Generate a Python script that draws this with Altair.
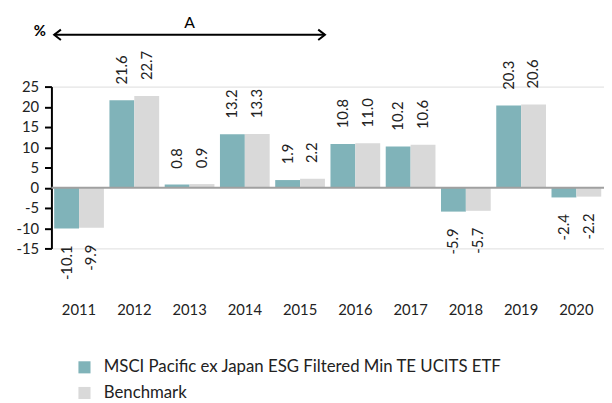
import altair as alt
import pandas as pd

years = ["2011", "2012", "2013", "2014", "2015", "2016", "2017", "2018", "2019", "2020"]
fund = [-10.1, 21.6, 0.8, 13.2, 1.9, 10.8, 10.2, -5.9, 20.3, -2.4]
bench = [-9.9, 22.7, 0.9, 13.3, 2.2, 11.0, 10.6, -5.7, 20.6, -2.2]
series_names = ["MSCI Pacific ex Japan ESG Filtered Min TE UCITS ETF", "Benchmark"]
colors = ["#80b3b9", "#d9d9d9"]
y_ticks = [-15, -10, -5, 0, 5, 10, 15, 20, 25]

rows = []
for i, y in enumerate(years):
    rows.append({"year": y, "series": series_names[0], "value": fund[i]})
    rows.append({"year": y, "series": series_names[1], "value": bench[i]})
df = pd.DataFrame(rows)

arrow_df = pd.DataFrame([{"start": "2011", "end": "2015", "mid": "2013", "y": 37.8, "ty": 40.8, "label": "A"}])

FONT = "Lato"
TXT = "#222222"

xenc = alt.X("year:N", sort=years, title=None,
             scale=alt.Scale(paddingInner=0.1, paddingOuter=0.05),
             axis=alt.Axis(domain=False, ticks=False, labelAngle=0, labelPadding=55,
                           labelFontSize=15, labelColor=TXT, labelFont=FONT))
yscale = alt.Scale(domain=[-15, 25], nice=False, zero=False)
yaxis = alt.Axis(values=y_ticks, grid=False, labelOverlap=False,
                 labelExpr="replace(datum.label, '\u2212', '-')",
                 domainColor="#000000", domainWidth=2, tickColor="#000000",
                 tickWidth=2, tickSize=7, labelPadding=6, labelFontSize=15,
                 labelColor=TXT, labelFont=FONT,
                 title="%", titleAngle=0, titleAlign="right", titleBaseline="middle",
                 titleX=-6, titleY=-57, titleFontSize=15, titleFont=FONT,
                 titleFontWeight="bold", titleColor="#000000")
yq = lambda f: alt.Y(f, scale=yscale, axis=yaxis)
xoff = alt.XOffset("series:N", sort=series_names)
color = alt.Color("series:N", sort=series_names,
                  scale=alt.Scale(domain=series_names, range=colors),
                  legend=alt.Legend(title=None, orient="none", legendX=25, legendY=276,
                                    direction="vertical", symbolType="square", symbolSize=150,
                                    symbolStrokeWidth=0, labelFontSize=17, labelFont=FONT,
                                    labelColor=TXT, rowPadding=8, labelOffset=11, labelLimit=0))

base = alt.Chart(df).transform_calculate(
    lbl="replace(format(datum.value, '.1f'), '\u2212', '-')")
bars = base.mark_bar().encode(x=xenc, xOffset=xoff, y=yq("value:Q"), color=color)

zero = alt.Chart(pd.DataFrame({"value": [0]})).mark_rule(color="#a0a0a0", strokeWidth=2).encode(
    y=yq("value:Q"))

pos = base.transform_filter("datum.value >= 0").mark_text(
    angle=270, align="left", baseline="middle", dx=16, fontSize=15, font=FONT, color=TXT
).encode(x=alt.X("year:N", sort=years), xOffset=xoff, y=yq("value:Q"), text="lbl:N")
neg = base.transform_filter("datum.value < 0").mark_text(
    angle=270, align="right", baseline="middle", dx=-17, fontSize=15, font=FONT, color=TXT
).encode(x=alt.X("year:N", sort=years), xOffset=xoff, y=yq("value:Q"), text="lbl:N")

ab = alt.Chart(arrow_df)
arrow_line = ab.mark_rule(color="#000000", strokeWidth=2).encode(
    x=alt.X("start:N", bandPosition=0), x2=alt.X2("end:N", bandPosition=1),
    y=yq("y:Q"))
head_l = ab.mark_point(shape="M1.3,-1L0,0L1.3,1", filled=False, color="#000000",
                       strokeWidth=2, size=110, opacity=1).encode(
    x=alt.X("start:N", bandPosition=0), y=yq("y:Q"))
head_r = ab.mark_point(shape="M-1.3,-1L0,0L-1.3,1", filled=False, color="#000000",
                       strokeWidth=2, size=110, opacity=1).encode(
    x=alt.X("end:N", bandPosition=1), y=yq("y:Q"))
a_text = ab.mark_text(fontSize=16, font=FONT, color="#000000", baseline="middle").encode(
    x=alt.X("mid:N"), y=yq("ty:Q"), text="label:N")

chart = alt.layer(bars, zero, pos, neg, arrow_line, head_l, head_r, a_text).properties(
    width=560, height=164,
    autosize=alt.AutoSizeParams(type="none"),
    padding={"left": 44, "top": 77, "right": 0, "bottom": 154},
).configure_view(stroke=None).configure_axisY(labelOverlap=False).configure(background="white")

chart.save("out.html", embed_options={"renderer": "svg", "actions": False})
